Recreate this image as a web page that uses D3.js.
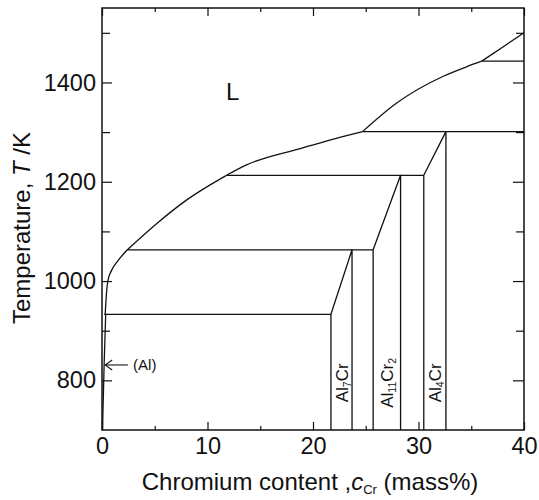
<!DOCTYPE html>
<html>
<head>
<meta charset="utf-8">
<script src="https://cdn.jsdelivr.net/npm/d3@7"></script>
<style>
  html, body { margin: 0; padding: 0; background: #fff; }
  svg { display: block; font-family: "Liberation Sans", Arial, Helvetica, sans-serif; }
</style>
</head>
<body>
<svg id="chart" width="539" height="500"></svg>
<script>
// ---------- data ----------
const xDomain = [0, 40];
const yDomain = [700, 1550];
const xMajorTicks = [0, 10, 20, 30, 40];
const xMinorTicks = [5, 15, 25, 35];
const yMajorTicks = [800, 1000, 1200, 1400];
const yMinorTicks = [900, 1100, 1300, 1500];

// liquidus segments (c_Cr mass%, T K)
const liquidusSeg1 = [[0.3, 933], [0.45, 982], [0.57, 1002], [0.92, 1022], [1.55, 1042], [2.4, 1063]];
const liquidusSeg2 = [[2.4, 1063], [5.2, 1116], [8.0, 1163], [11.8, 1213]];
const liquidusSeg3 = [[11.8, 1213], [13.7, 1234], [18.8, 1267], [23.0, 1292], [24.7, 1301]];
const liquidusSeg4 = [[24.7, 1301], [27.9, 1358], [32.4, 1413], [34.6, 1432], [36.0, 1443]];
const liquidusSeg5 = [[36.0, 1443], [40, 1500]];
// (Al) solvus
const alSolvus = [[0.05, 700], [0.2, 830], [0.35, 933]];

// horizontal invariant lines: [cStart, cEnd, T]
const invariants = [[0.2, 21.7, 933], [2.4, 25.7, 1063], [11.8, 30.5, 1213], [24.7, 40, 1301], [36.0, 40, 1443]];

// intermetallic compounds
const compoundNames = [["Al", "7", "Cr", ""], ["Al", "11", "Cr", "2"], ["Al", "4", "Cr", ""]];
const compoundLeft = [21.7, 25.7, 30.5];
const compoundRight = [23.7, 28.3, 32.6];
const compoundTLeft = [933, 1063, 1213];
const compoundTRight = [1063, 1213, 1301];
const compoundLabelT = 795;

// annotations
const liquidLabel = { text: "L", c: 11.75, T: 1365 };
const alArrow = { from: [2.45, 831], to: [0.3, 831], labelC: 2.95, text: "(Al)" };

// ---------- drawing ----------
const svg = d3.select("#chart");
const x = d3.scaleLinear().domain(xDomain).range([102, 524]);
const y = d3.scaleLinear().domain(yDomain).range([430, 8]);
const ink = "#111";
const lw = 1.3;

// axes (ticks inward)
function styleAxis(g) {
  g.select(".domain").remove();
  g.selectAll(".tick line").attr("stroke", ink).attr("stroke-width", 1.2);
  g.selectAll(".tick text").attr("fill", ink).attr("font-size", 23.5)
    .attr("font-family", "'Liberation Sans', Arial, Helvetica, sans-serif");
}
svg.append("g").attr("transform", "translate(0,430)")
  .call(d3.axisBottom(x).tickValues(xMajorTicks).tickSizeInner(-8).tickSizeOuter(0).tickPadding(7).tickFormat(d3.format("d")))
  .call(styleAxis);
svg.append("g").attr("transform", "translate(0,430)")
  .call(d3.axisBottom(x).tickValues(xMinorTicks).tickSizeInner(-4).tickSizeOuter(0).tickFormat(""))
  .call(styleAxis);
svg.append("g").attr("transform", "translate(0,8)")
  .call(d3.axisTop(x).tickValues(xMajorTicks).tickSizeInner(-8).tickSizeOuter(0).tickFormat(""))
  .call(styleAxis);
svg.append("g").attr("transform", "translate(0,8)")
  .call(d3.axisTop(x).tickValues(xMinorTicks).tickSizeInner(-4).tickSizeOuter(0).tickFormat(""))
  .call(styleAxis);
svg.append("g").attr("transform", "translate(102,0)")
  .call(d3.axisLeft(y).tickValues(yMajorTicks).tickSizeInner(-10).tickSizeOuter(0).tickPadding(6).tickFormat(d3.format("d")))
  .call(styleAxis);
svg.append("g").attr("transform", "translate(102,0)")
  .call(d3.axisLeft(y).tickValues(yMinorTicks).tickSizeInner(-8).tickSizeOuter(0).tickFormat(""))
  .call(styleAxis);
svg.append("g").attr("transform", "translate(524,0)")
  .call(d3.axisRight(y).tickValues(yMajorTicks).tickSizeInner(-11).tickSizeOuter(0).tickFormat(""))
  .call(styleAxis);
svg.append("g").attr("transform", "translate(524,0)")
  .call(d3.axisRight(y).tickValues(yMinorTicks).tickSizeInner(-8).tickSizeOuter(0).tickFormat(""))
  .call(styleAxis);

// frame
svg.append("rect")
  .attr("x", x(xDomain[0])).attr("y", y(yDomain[1]))
  .attr("width", x(xDomain[1]) - x(xDomain[0])).attr("height", y(yDomain[0]) - y(yDomain[1]))
  .attr("fill", "none").attr("stroke", ink).attr("stroke-width", 1.5);

// liquidus
const curve = d3.line().x(d => x(d[0])).y(d => y(d[1])).curve(d3.curveMonotoneX);
const straight = d3.line().x(d => x(d[0])).y(d => y(d[1]));
const plot = svg.append("g").attr("fill", "none").attr("stroke", ink).attr("stroke-width", lw)
  .attr("stroke-linejoin", "round");
[liquidusSeg1, liquidusSeg2, liquidusSeg3, liquidusSeg4].forEach(s => plot.append("path").attr("d", curve(s)));
plot.append("path").attr("d", straight(liquidusSeg5));
plot.append("path").attr("d", d3.line().x(d => x(d[0])).y(d => y(d[1])).curve(d3.curveMonotoneY)(alSolvus));

// invariant lines
invariants.forEach(([c0, c1, T]) => plot.append("path").attr("d", straight([[c0, T], [c1, T]])));

// compounds
compoundLeft.forEach((cl, i) => {
  const cr = compoundRight[i];
  plot.append("path").attr("d", straight([[cl, yDomain[0]], [cl, compoundTLeft[i]], [cr, compoundTRight[i]], [cr, yDomain[0]]]));
});

// compound labels (rotated)
const labelSize = 17;
compoundLeft.forEach((cl, i) => {
  const xc = (x(cl) + x(compoundRight[i])) / 2;
  const yc = y(compoundLabelT);
  const t = svg.append("text")
    .attr("transform", `translate(${xc},${yc}) rotate(-90)`)
    .attr("text-anchor", "middle").attr("dy", "0.36em")
    .attr("font-size", labelSize).attr("fill", ink);
  const parts = compoundNames[i];
  t.append("tspan").text(parts[0]);
  t.append("tspan").attr("font-size", labelSize * 0.62).attr("dy", 3).text(parts[1]);
  t.append("tspan").attr("dy", -3).text(parts[2]);
  if (parts[3]) t.append("tspan").attr("font-size", labelSize * 0.62).attr("dy", 3).text(parts[3]);
});

// L label
svg.append("text").attr("x", x(liquidLabel.c)).attr("y", y(liquidLabel.T))
  .attr("font-size", 24).attr("fill", ink).text(liquidLabel.text);

// (Al) arrow
const ax0 = x(alArrow.from[0]), ax1 = x(alArrow.to[0]), ay = y(alArrow.from[1]);
svg.append("line").attr("x1", ax0).attr("y1", ay).attr("x2", ax1).attr("y2", ay)
  .attr("stroke", ink).attr("stroke-width", 1.1);
svg.append("path").attr("d", `M${ax1 + 7},${ay - 5} L${ax1},${ay} L${ax1 + 7},${ay + 5}`)
  .attr("fill", "none").attr("stroke", ink).attr("stroke-width", 1.1);
svg.append("text").attr("x", x(alArrow.labelC)).attr("y", ay).attr("dy", "0.36em")
  .attr("font-size", 15).attr("fill", ink).text(alArrow.text);

// axis titles
const xt = svg.append("text").attr("x", 310).attr("y", 490).attr("text-anchor", "middle")
  .attr("font-size", 24).attr("fill", ink);
xt.append("tspan").text("Chromium content ,");
xt.append("tspan").attr("font-style", "italic").text("c");
xt.append("tspan").attr("font-size", 13).attr("dy", 4).text("Cr");
xt.append("tspan").attr("dy", -4).text(" (mass%)");

const yt = svg.append("text").attr("transform", "translate(30,228) rotate(-90)")
  .attr("text-anchor", "middle").attr("font-size", 24).attr("fill", ink);
yt.append("tspan").text("Temperature, ");
yt.append("tspan").attr("font-style", "italic").text("T");
yt.append("tspan").text(" /K");
</script>
</body>
</html>
